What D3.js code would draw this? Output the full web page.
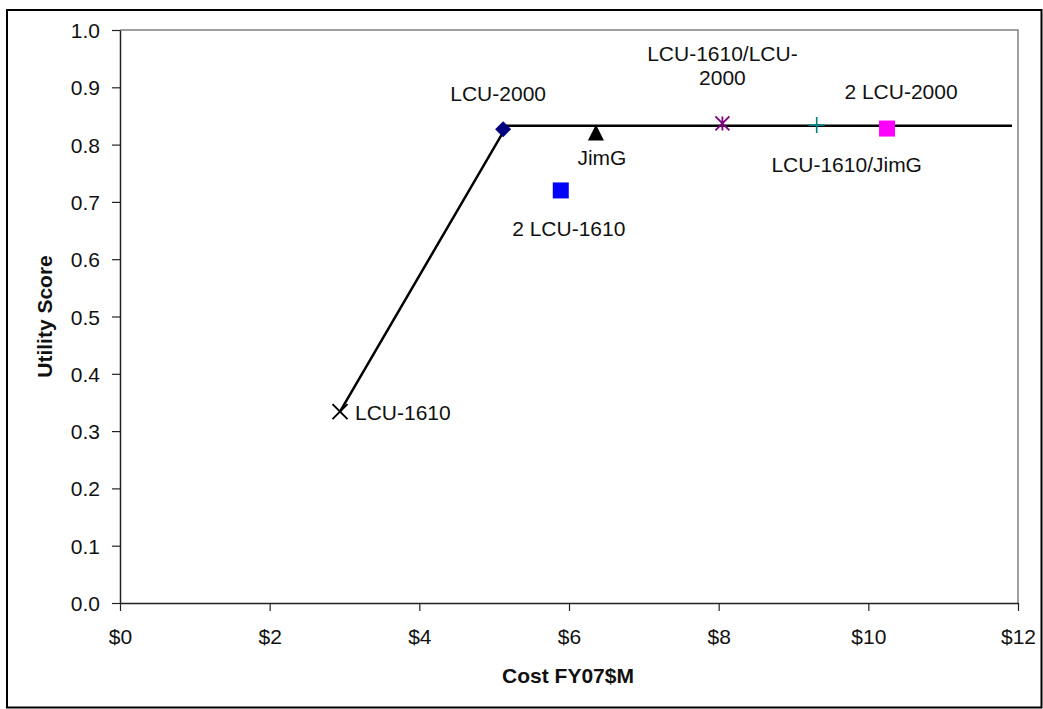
<!DOCTYPE html>
<html>
<head>
<meta charset="utf-8">
<script src="https://cdn.jsdelivr.net/npm/d3@7"></script>
<style>
  html, body { margin: 0; padding: 0; background: #fff; }
  svg { display: block; font-family: "Liberation Sans", Arial, sans-serif; }
</style>
</head>
<body>
<svg id="chart" width="1043" height="709"></svg>
<script>
// ---- data ----
const names   = ["LCU-1610", "LCU-2000", "JimG", "2 LCU-1610", "LCU-1610/LCU-2000", "LCU-1610/JimG", "2 LCU-2000"];
const costs   = [2.94, 5.12, 6.36, 5.89, 8.05, 9.31, 10.25];
const scores  = [0.334, 0.827, 0.821, 0.720, 0.837, 0.834, 0.828];
const frontierCost  = [2.94, 5.17, 11.92];
const frontierScore = [0.334, 0.833, 0.833];
const xTicks = [0, 2, 4, 6, 8, 10, 12];
const yTicks = [0, 0.1, 0.2, 0.3, 0.4, 0.5, 0.6, 0.7, 0.8, 0.9, 1.0];

// ---- styling per point (not data) ----
const markerStyle = [
  { shape: "x",        color: "#000000", size: 15 },
  { shape: "diamond",  color: "#000080", size: 16 },
  { shape: "triangle", color: "#000000", size: 16 },
  { shape: "square",   color: "#0000FF", size: 16 },
  { shape: "star",     color: "#800080", size: 14 },
  { shape: "plus",     color: "#008080", size: 16 },
  { shape: "square",   color: "#FF00FF", size: 16 }
];
// label offsets relative to marker (dx, dy of baseline), anchor
const labelPos = [
  { dx: 15,  dy: 8,   anchor: "start",  lines: ["LCU-1610"] },
  { dx: -5,  dy: -28, anchor: "middle", lines: ["LCU-2000"] },
  { dx: 6,   dy: 32,  anchor: "middle", lines: ["JimG"] },
  { dx: 8,   dy: 46,  anchor: "middle", lines: ["2 LCU-1610"] },
  { dx: 0,   dy: -62, anchor: "middle", lines: ["LCU-1610/LCU-", "2000"] },
  { dx: 30,  dy: 47,  anchor: "middle", lines: ["LCU-1610/JimG"] },
  { dx: 14,  dy: -30, anchor: "middle", lines: ["2 LCU-2000"] }
];

const FS = 21;
const svg = d3.select("#chart");
const L = 120, R = 1018, T = 30, B = 603;
const x = d3.scaleLinear().domain([0, 12]).range([L, R]);
const y = d3.scaleLinear().domain([0, 1]).range([B, T]);

svg.append("rect").attr("x", 0).attr("y", 0).attr("width", 1043).attr("height", 709).attr("fill", "#fff");
// outer border
svg.append("rect").attr("x", 7).attr("y", 10).attr("width", 1034.5).attr("height", 697.5)
  .attr("fill", "none").attr("stroke", "#000").attr("stroke-width", 2);

// plot area border (gray top/right)
svg.append("path").attr("d", `M${L},${T}H${R}V${B}`).attr("fill", "none").attr("stroke", "#808080").attr("stroke-width", 1.5);

// axes
const xAxis = svg.append("g").attr("transform", `translate(0,${B})`)
  .call(d3.axisBottom(x).tickValues(xTicks).tickSize(8).tickSizeOuter(0).tickFormat(d => "$" + d));
const yAxis = svg.append("g").attr("transform", `translate(${L},0)`)
  .call(d3.axisLeft(y).tickValues(yTicks).tickSize(8).tickSizeOuter(0).tickFormat(d3.format(".1f")));
[xAxis, yAxis].forEach(g => {
  g.select(".domain").attr("stroke", "#222").attr("stroke-width", 1.5);
  g.selectAll(".tick line").attr("stroke", "#222").attr("stroke-width", 1.2);
  g.selectAll(".tick text").attr("font-size", FS).attr("fill", "#111")
    .attr("font-family", "'Liberation Sans', Arial, sans-serif");
});
xAxis.selectAll(".tick text").attr("dy", 0).attr("y", 41);
yAxis.selectAll(".tick text").attr("x", -20).attr("dy", "0.36em");

// axis titles
svg.append("text").attr("x", 568).attr("y", 683).attr("text-anchor", "middle")
  .attr("font-size", FS).attr("font-weight", "bold").attr("fill", "#111").text("Cost FY07$M");
svg.append("text").attr("transform", `translate(52,${(T + B) / 2}) rotate(-90)`).attr("text-anchor", "middle")
  .attr("font-size", FS).attr("font-weight", "bold").attr("fill", "#111").text("Utility Score");

// frontier line
const frontier = frontierCost.map((c, i) => [c, frontierScore[i]]);
svg.append("path").datum(frontier)
  .attr("d", d3.line().x(d => x(d[0])).y(d => y(d[1])))
  .attr("fill", "none").attr("stroke", "#000").attr("stroke-width", 2.5);

// markers
const pts = names.map((n, i) => ({ name: n, cost: costs[i], score: scores[i], st: markerStyle[i], lab: labelPos[i] }));
const mg = svg.append("g");
pts.forEach(p => {
  const cx = x(p.cost), cy = y(p.score), s = p.st.size / 2, c = p.st.color;
  const g = mg.append("g").attr("transform", `translate(${cx},${cy})`);
  if (p.st.shape === "square") {
    g.append("rect").attr("x", -s).attr("y", -s).attr("width", 2 * s).attr("height", 2 * s).attr("fill", c);
  } else if (p.st.shape === "diamond") {
    g.append("path").attr("d", `M0,${-s}L${s},0L0,${s}L${-s},0Z`).attr("fill", c);
  } else if (p.st.shape === "triangle") {
    g.append("path").attr("d", `M0,${-s}L${s},${s}L${-s},${s}Z`).attr("fill", c);
  } else if (p.st.shape === "x") {
    g.append("path").attr("d", `M${-s},${-s}L${s},${s}M${-s},${s}L${s},${-s}`).attr("stroke", c).attr("stroke-width", 2);
  } else if (p.st.shape === "plus") {
    g.append("path").attr("d", `M${-s},0L${s},0M0,${-s}L0,${s}`).attr("stroke", c).attr("stroke-width", 1.6);
  } else if (p.st.shape === "star") {
    g.append("path").attr("d", `M${-s},${-s}L${s},${s}M${-s},${s}L${s},${-s}M0,${-s}L0,${s}`).attr("stroke", c).attr("stroke-width", 1.8);
  }
  const t = svg.append("text").attr("x", cx + p.lab.dx).attr("y", cy + p.lab.dy)
    .attr("text-anchor", p.lab.anchor).attr("font-size", FS).attr("fill", "#111");
  p.lab.lines.forEach((ln, k) => {
    t.append("tspan").attr("x", cx + p.lab.dx).attr("dy", k === 0 ? 0 : 24).text(ln);
  });
});
</script>
</body>
</html>
